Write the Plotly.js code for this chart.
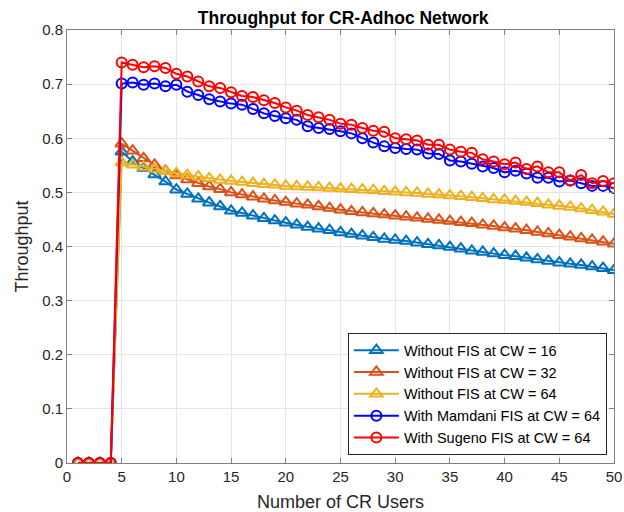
<!DOCTYPE html>
<html>
<head>
<meta charset="utf-8">
<script src="https://cdn.plot.ly/plotly-3.0.1.min.js"></script>
<style>html,body{margin:0;padding:0;background:#fff;}#chart{width:624px;height:512px;}</style>
</head>
<body>
<div id="chart"></div>
<script>
var users = [];
for (var i = 1; i <= 50; i++) users.push(i);

var cw16 = [0,0,0,0,
0.575,0.557,0.545,0.533,0.520,0.505,0.497,0.488,0.481,0.474,0.466,0.462,0.457,0.452,0.448,0.444,
0.440,0.436,0.433,0.430,0.426,0.423,0.420,0.417,0.414,0.412,0.410,0.407,0.404,0.402,0.399,0.396,
0.392,0.390,0.387,0.384,0.382,0.379,0.376,0.373,0.370,0.368,0.366,0.363,0.360,0.356];

var cw32 = [0,0,0,0,
0.590,0.577,0.563,0.551,0.540,0.531,0.524,0.517,0.511,0.506,0.500,0.496,0.492,0.488,0.485,0.482,
0.479,0.477,0.474,0.471,0.468,0.465,0.463,0.461,0.459,0.457,0.455,0.453,0.451,0.449,0.447,0.445,
0.443,0.440,0.438,0.435,0.433,0.430,0.427,0.424,0.421,0.418,0.415,0.412,0.409,0.405];

var cw64 = [0,0,0,0,
0.555,0.551,0.547,0.543,0.539,0.535,0.532,0.529,0.526,0.523,0.521,0.519,0.517,0.515,0.514,0.512,
0.511,0.510,0.509,0.508,0.507,0.506,0.505,0.504,0.502,0.501,0.500,0.499,0.497,0.496,0.494,0.493,
0.491,0.489,0.487,0.486,0.484,0.482,0.480,0.477,0.475,0.473,0.470,0.467,0.464,0.460];

var mamdani = [0,0,0,0,
0.701,0.703,0.699,0.701,0.696,0.699,0.686,0.680,0.672,0.668,0.664,0.662,0.654,0.646,0.641,0.637,
0.634,0.622,0.619,0.617,0.613,0.609,0.600,0.592,0.585,0.582,0.580,0.579,0.572,0.571,0.559,0.557,
0.553,0.548,0.545,0.537,0.540,0.535,0.527,0.527,0.520,0.522,0.517,0.512,0.512,0.508];

var sugeno = [0,0,0,0,
0.740,0.736,0.731,0.733,0.730,0.719,0.714,0.705,0.696,0.693,0.685,0.678,0.676,0.670,0.665,0.657,
0.651,0.643,0.639,0.634,0.627,0.625,0.619,0.614,0.612,0.600,0.598,0.596,0.588,0.588,0.579,0.575,
0.573,0.561,0.557,0.552,0.555,0.543,0.548,0.537,0.537,0.522,0.532,0.517,0.521,0.517];

var names = ['Without FIS at CW = 16','Without FIS at CW = 32','Without FIS at CW = 64',
             'With Mamdani FIS at CW = 64','With Sugeno FIS at CW = 64'];
var series = [cw16, cw32, cw64, mamdani, sugeno];
var colors = ['#0072BD','#D95319','#EDB120','#0000FF','#FF0000'];
var symbols = ['triangle-up-open','triangle-up-open','triangle-up-open','circle-open','circle-open'];

var traces = series.map(function(s, k){
  return {
    x: users, y: s, name: names[k], type: 'scatter', mode: 'lines+markers',
    line: {color: colors[k], width: 2},
    marker: {symbol: symbols[k], size: k < 3 ? 11 : 10, color: colors[k], line: {color: colors[k], width: 2}}
  };
});

var FONT = 'Liberation Sans, Arial, sans-serif';
var axisCommon = {
  showgrid: true, gridcolor: '#e5e5e5', gridwidth: 1,
  showline: true, linecolor: '#808080', linewidth: 1, mirror: 'allticks',
  ticks: 'inside', ticklen: 5, tickcolor: '#808080',
  zeroline: false,
  tickfont: {family: FONT, size: 15, color: '#262626'}
};

var layout = {
  width: 624, height: 512,
  margin: {l: 67, r: 10, t: 30, b: 49},
  paper_bgcolor: '#fff', plot_bgcolor: '#fff',
  title: {text: '<b>Throughput for CR-Adhoc Network</b>', x: 0.55, xanchor: 'center', y: 0.966, yanchor: 'middle',
          font: {family: FONT, size: 17.5, color: '#000'}},
  xaxis: Object.assign({}, axisCommon, {
    range: [0, 50], tickvals: [0,5,10,15,20,25,30,35,40,45,50],
    title: {text: 'Number of CR Users', standoff: 13, font: {family: FONT, size: 18, color: '#262626'}}
  }),
  yaxis: Object.assign({}, axisCommon, {
    range: [0, 0.8], tickvals: [0,0.1,0.2,0.3,0.4,0.5,0.6,0.7,0.8],
    ticktext: ['0','0.1','0.2','0.3','0.4','0.5','0.6','0.7','0.8'],
    title: {text: 'Throughput', standoff: 8, font: {family: FONT, size: 18, color: '#262626'}}
  }),
  showlegend: true,
  legend: {x: 0.987, xanchor: 'right', y: 0.018, yanchor: 'bottom',
           bgcolor: '#fff', bordercolor: '#262626', borderwidth: 1,
           font: {family: FONT, size: 14.5, color: '#000'},
           tracegroupgap: 0, itemwidth: 45}
};

Plotly.newPlot('chart', traces, layout, {displayModeBar: false, staticPlot: true});
</script>
</body>
</html>
